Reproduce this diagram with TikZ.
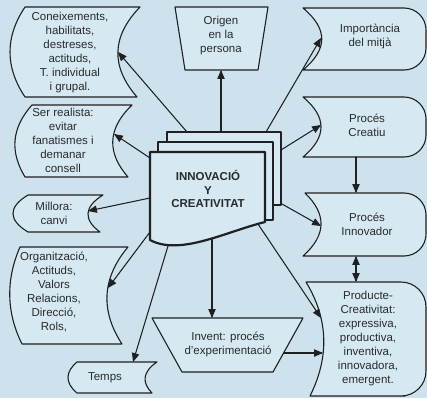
\documentclass[tikz,border=0pt]{standalone}
\usepackage{fontspec}
\setmainfont{Liberation Sans}
\usetikzlibrary{arrows}
\definecolor{bgblue}{RGB}{205,226,236}
\definecolor{boxblue}{RGB}{214,233,242}
\definecolor{linegray}{RGB}{30,32,34}
\definecolor{textgray}{RGB}{40,42,45}

\begin{document}
\begin{tikzpicture}[x=1pt,y=-1pt,line cap=round,line join=round,>=triangle 45,
  box/.style={draw=linegray,fill=boxblue,line width=1.1pt},
  page/.style={draw=linegray,fill=boxblue,line width=2.2pt},
  lbl/.style={align=center,inner sep=0pt,text=textgray,font=\fontsize{11.5}{14}\selectfont},
  link/.style={->,line width=1.05pt,draw=linegray}]
\useasboundingbox (0,0) rectangle (427,398);
\fill[bgblue] (0,0) rectangle (427,398);

% left column
\draw[box] (25,7) -- (140,7) .. controls (111,37) and (111,67) .. (137,97) -- (25,97) .. controls (5,67) and (5,37) .. cycle;
\draw[box] (32,105) -- (132,105) .. controls (107,129) and (107,153) .. (128,177) -- (25,177) .. controls (10.5,153) and (10.5,129) .. cycle;
\draw[box] (28,195) -- (103,195) .. controls (83.5,207) and (83.5,220) .. (100,232) -- (28,232) .. controls (8,220) and (8,207) .. cycle;
\draw[box] (20,247) -- (128,247) .. controls (101,279) and (101,312) .. (122,344) -- (22,344) .. controls (6,312) and (6,279) .. cycle;
\draw[box] (77,362) -- (157,362) .. controls (142,372) and (142,383) .. (152,393) -- (77,393) .. controls (65,383) and (65,372) .. cycle;

% right column
\draw[box] (303,8) -- (380,8) [rounded corners=22pt] -- (426,8) -- (426,70) -- (380,70) [sharp corners] -- (303,70) .. controls (328,49) and (328,29) .. cycle;
\draw[box] (303,97) -- (380,97) [rounded corners=22pt] -- (426,97) -- (426,157) -- (380,157) [sharp corners] -- (303,157) .. controls (327,137) and (327,117) .. cycle;
\draw[box] (305,193) -- (380,193) [rounded corners=22pt] -- (426,193) -- (426,256) -- (380,256) [sharp corners] -- (303,256) .. controls (326.7,235) and (326.7,214) .. cycle;
\draw[box] (306,282) -- (380,282) [rounded corners=25pt] -- (426,282) -- (426,396) -- (380,396) [sharp corners] -- (310,396) .. controls (329,358) and (329,320) .. cycle;

% trapezia
\draw[box] (175,7) -- (268,7) -- (258,70) -- (185,70) -- cycle;
\draw[box] (152,318) -- (303,318) -- (273,372) -- (182,372) -- cycle;

% document stack
\draw[page] (167,132) rectangle (281,205);
\draw[page] (158,142) rectangle (273,220);
\draw[page] (150,152) -- (265,152) -- (265,222) .. controls (225,232) and (180,256) .. (150,240) -- cycle;

\node[lbl] (kn) at (70,53) {Coneixements,\\habilitats,\\destreses,\\actituds,\\T. individual\\i grupal.};
\node[lbl] (sr) at (63,140) {Ser realista:\\evitar\\fanatismes i\\demanar\\consell};
\node[lbl] (ml) at (54,213) {Millora:\\canvi};
\node[lbl] (og) at (54,292) {Organització,\\Actituds,\\Valors\\Relacions,\\Direcció,\\Rols,};
\node[lbl] (tp) at (105,378) {Temps};
\node[lbl] (or) at (221,36) {Origen\\en la\\persona};
\node[lbl] (iv) at (228,344) {Invent: procés\\d'experimentació};
\node[lbl] (im) at (370,36) {Importància\\del mitjà};
\node[lbl] (pc) at (367,125) {Procés\\Creatiu};
\node[lbl] (pi) at (367,224) {Procés\\Innovador};
\node[lbl] (pr) at (368,339) {Producte-\\Creativitat:\\expressiva,\\productiva,\\inventiva,\\innovadora,\\emergent.};
\node[lbl,font=\bfseries\fontsize{11.5}{13.5}\selectfont] (cd) at (208,189) {INNOVACIÓ\\Y\\CREATIVITAT};

\coordinate (cd-top) at (221,132);
\coordinate (cd-nw) at (187,132);
\coordinate (cd-ne) at (266,132);
\coordinate (cd-w1) at (150,158);
\coordinate (cd-w2) at (150,198);
\coordinate (cd-w3) at (150,232);
\coordinate (cd-sw) at (168,246);
\coordinate (cd-s) at (212,239);
\coordinate (cd-se) at (258,224);
\coordinate (cd-e1) at (281,150);
\coordinate (cd-e2) at (282,204);
\coordinate (or-s) at (221,70);
\coordinate (kn-e) at (118,52);
\coordinate (sr-e) at (114,134);
\coordinate (ml-e) at (88,211);
\coordinate (og-e) at (108,288);
\coordinate (tp-n) at (133,362);
\coordinate (iv-n) at (212,318);
\coordinate (iv-e) at (284,353);
\coordinate (im-w) at (321,38);
\coordinate (pc-w) at (321,125);
\coordinate (pc-s) at (356,157);
\coordinate (pi-w) at (321,226);
\coordinate (pi-n) at (356,193);
\coordinate (pi-s) at (356,256);
\coordinate (pr-n) at (356,282);
\coordinate (pr-w1) at (321,318);
\coordinate (pr-w2) at (323,353);

\draw[link] (cd-top) -- (or-s);
\draw[link] (cd-nw) -- (kn-e);
\draw[link] (cd-w1) -- (sr-e);
\draw[link] (cd-w2) -- (ml-e);
\draw[link] (cd-w3) -- (og-e);
\draw[link] (cd-sw) -- (tp-n);
\draw[link] (cd-s) -- (iv-n);
\draw[link] (cd-se) -- (pr-w1);
\draw[link] (cd-e2) -- (pi-w);
\draw[link] (cd-e1) -- (pc-w);
\draw[link] (cd-ne) -- (im-w);
\draw[link] (iv-e) -- (pr-w2);
\draw[link] (pc-s) -- (pi-n);
\draw[link,<->] (pi-s) -- (pr-n);
\end{tikzpicture}
\end{document}
